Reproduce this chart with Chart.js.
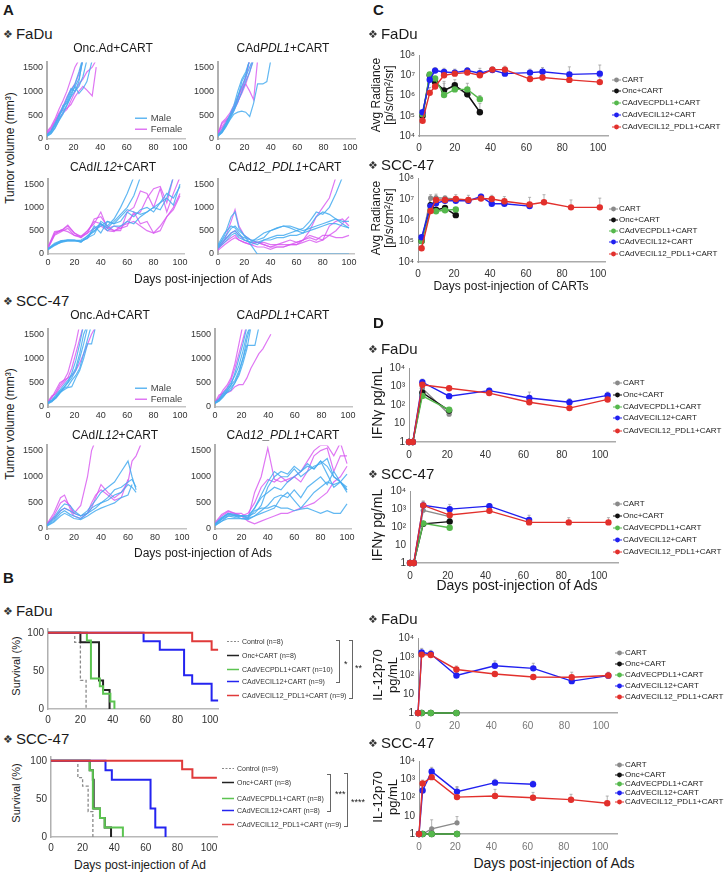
<!DOCTYPE html>
<html>
<head>
<meta charset="utf-8">
<title>CAdVEC + CART tumour, survival and cytokine panels</title>
<script src="https://cdn.jsdelivr.net/npm/chart.js@4.4.1/dist/chart.umd.min.js"></script>
<style>
  body { margin: 0; background: #fff; }
  #page { position: relative; width: 724px; height: 873px; overflow: hidden; font-family: "Liberation Sans", Arial, sans-serif; color: #1a1a1a; }
  #page canvas { position: absolute; }
  .t { position: absolute; white-space: nowrap; line-height: 1; }
  .lg { display: flex; align-items: center; }
  .lg svg { margin-right: 1px; flex: none; }
  .sym { font-family: "DejaVu Sans", sans-serif; font-size: 11px; color: #333; margin-right: 3px; vertical-align: 1px; font-variant-emoji: text; }
  .br { position: absolute; border: 1px solid #666; border-left: none; width: 3px; }
</style>
</head>
<body>
<div id="page"></div>
<script>
// ---------- Panel A: tumour volume per mouse (mm3) ----------
const volTicks = [0, 500, 1000, 1500];
const volLabels = ['0', '500', '1000', '1500'];
const dayTicks = [0, 20, 40, 60, 80, 100];

// FaDu, Onc.Ad+CART
const fOncDays = [0, 3, 6, 9, 12, 15, 18, 21, 24, 27, 30, 34, 37];
const fOncMale = [
  [70, 150, 280, 450, 700, 750, 950, 1100, 1250, 1650],
  [60, 120, 240, 400, 560, 720, 900, 1100, 950, 1050, 1200, 1650],
  [80, 160, 300, 500, 650, 850, 1050, 1000, 1200, 1700],
  [90, 170, 330, 480, 620, 800, 1000, 1150, 1400, 1700],
  [60, 110, 220, 380, 520, 700, 880, 1000, 1100, 1300, 1650]
];
const fOncFemale = [
  [160, 260, 420, 620, 800, 1000, 1250, 1500, 1650],
  [110, 200, 360, 520, 600, 640, 720, 880, 1000, 1100, 1020, 900, 1500],
  [100, 170, 290, 430, 540, 620, 800, 980, 1150, 1250, 1400, 1500, 1650],
  [130, 230, 370, 540, 680, 880, 1030, 1150, 1350, 1650]
];
// FaDu, CAdPDL1+CART
const fPdlDays = [0, 3, 6, 9, 12, 15, 18, 21, 24, 27, 30, 34, 37, 40];
const fPdlMale = [
  [60, 130, 250, 400, 520, 560, 580, 560, 470, 750, 1150, 1150, 1200, 1650],
  [80, 150, 290, 440, 600, 850, 1200, 1350, 1650],
  [70, 160, 310, 480, 640, 900, 1100, 1300, 1500, 1700],
  [90, 190, 340, 500, 700, 1000, 1250, 1400, 1650],
  [60, 140, 270, 420, 580, 780, 980, 1200, 1400, 1650]
];
const fPdlFemale = [
  [100, 320, 400, 480, 600, 760, 1000, 1300, 1650],
  [120, 350, 430, 540, 700, 880, 1050, 1150, 1000, 820, 1650],
  [150, 250, 380, 470, 640, 840, 1080, 1250, 1700],
  [100, 210, 340, 490, 630, 790, 950, 1150, 1400, 1700]
];
// FaDu, CAdIL12+CART
const fIl12Days = [0, 5, 10, 15, 20, 25, 30, 35, 40, 45, 50, 55, 60, 65, 70, 75, 80, 85, 90, 95, 100];
const fIl12Male = [
  [100, 200, 270, 280, 280, 260, 350, 420, 700, 600, 750, 1000, 1300, 1650],
  [120, 230, 290, 300, 300, 280, 330, 550, 650, 560, 700, 850, 1000, 1250, 1650],
  [90, 180, 260, 300, 300, 250, 400, 500, 600, 700, 650, 800, 950, 900, 850, 900, 1000, 950, 1200, 1650],
  [110, 210, 280, 300, 290, 270, 350, 600, 450, 700, 650, 700, 900, 800, 950, 1000, 900, 1100, 1200, 1050, 1500],
  [100, 200, 250, 280, 280, 300, 380, 480, 650, 500, 600, 600, 700, 650, 800, 900, 1000, 1100, 1300, 1200, 1450]
];
const fIl12Female = [
  [130, 450, 500, 600, 450, 350, 500, 650, 900, 550, 600, 550, 700, 850, 900, 1200, 1400, 1450, 1100, 1650],
  [150, 480, 500, 620, 450, 380, 450, 750, 800, 600, 500, 550, 600, 900, 650, 700, 450, 600, 800, 950, 1250],
  [120, 400, 480, 550, 400, 380, 500, 700, 650, 550, 500, 500, 900, 1000, 1350, 1300, 1000, 1400, 900, 1300, 1650],
  [140, 420, 520, 480, 400, 350, 450, 550, 600, 500, 480, 600, 650, 700, 600, 500, 450, 500, 800, 1000, 1300]
];
// FaDu, CAd12_PDL1+CART
const fDualDays = [0, 5, 10, 13, 16, 20, 25, 30, 35, 40, 45, 50, 55, 60, 65, 70, 75, 80, 85, 90, 95, 100];
const fDualMale = [
  [150, 400, 800, 900, 550, 400, 200, 0, 0, 0, 0, 0, 0, 0, 0, 0, 0, 0, 0, 0, 0, 0],
  [200, 450, 600, 560, 450, 300, 250, 350, 450, 500, 560, 600, 560, 500, 450, 600, 800, 900, 850, 750, 700, 700],
  [180, 350, 550, 600, 500, 400, 300, 250, 300, 350, 400, 400, 450, 500, 550, 700, 900, 850, 1000, 1300, 1650],
  [150, 300, 450, 500, 400, 350, 300, 300, 350, 500, 550, 600, 600, 550, 500, 550, 600, 650, 700, 750, 650, 560],
  [120, 250, 400, 450, 350, 300, 250, 200, 300, 300, 350, 350, 400, 400, 450, 500, 550, 600, 650, 650, 600, 560]
];
const fDualFemale = [
  [100, 300, 700, 950, 600, 400, 300, 250, 200, 150, 200, 200, 200, 250, 300, 500, 800, 1000, 1200, 1650],
  [150, 300, 450, 500, 400, 300, 250, 250, 200, 150, 150, 150, 200, 200, 300, 400, 350, 300, 400, 500, 650, 800],
  [120, 250, 350, 400, 300, 250, 200, 250, 250, 200, 200, 250, 300, 250, 300, 350, 300, 400, 400, 350, 350, 400],
  [80, 200, 300, 350, 300, 250, 200, 150, 150, 100, 150, 150, 200, 200, 250, 300, 250, 300, 600, 700, 750, 600]
];
// SCC-47, Onc.Ad+CART
const sOncDays = [0, 3, 6, 9, 12, 15, 18, 21, 24, 27, 30, 33, 36, 39];
const sOncMale = [
  [80, 120, 180, 280, 380, 420, 550, 650, 800, 1100, 1400, 1700],
  [90, 140, 220, 320, 400, 500, 600, 750, 1000, 1300, 1650],
  [70, 110, 200, 300, 350, 400, 420, 600, 750, 1000, 1300, 1300, 1650],
  [100, 150, 250, 350, 450, 550, 650, 800, 1100, 1500, 1700],
  [80, 130, 200, 300, 400, 500, 700, 950, 1300, 1700]
];
const sOncFemale = [
  [100, 200, 300, 450, 550, 700, 1000, 1300, 1700],
  [120, 230, 270, 400, 500, 600, 800, 1100, 1400, 1700],
  [90, 200, 350, 500, 550, 600, 650, 750, 900, 1100, 1300, 1500, 1650]
];
// SCC-47, CAdPDL1+CART
const sPdlDays = [0, 3, 6, 9, 12, 15, 18, 21, 24, 27, 30, 33, 36, 39, 42];
const sPdlMale = [
  [80, 140, 230, 330, 450, 700, 1000, 1300, 1650],
  [90, 150, 250, 350, 450, 550, 750, 1000, 1270, 1270, 1270, 1650],
  [70, 130, 220, 300, 400, 500, 650, 900, 1200, 1650],
  [100, 160, 280, 380, 500, 650, 850, 1150, 1500, 1700],
  [80, 120, 200, 300, 350, 500, 700, 1000, 1400, 1700]
];
const sPdlFemale = [
  [100, 250, 280, 290, 330, 420, 460, 460, 600, 800, 950, 1100, 1200, 1350, 1500],
  [90, 180, 300, 400, 550, 800, 1100, 1400, 1700],
  [100, 200, 350, 450, 600, 900, 1300, 1700]
];
// SCC-47, CAdIL12+CART
const sIl12Days = [0, 5, 10, 13, 17, 20, 25, 30, 33, 36, 40, 45, 50, 55, 60, 63, 66, 70];
const sIl12Male = [
  [80, 220, 400, 480, 450, 350, 250, 350, 450, 550, 700, 800, 900, 1100, 1300, 1000, 750],
  [60, 150, 300, 350, 280, 250, 200, 300, 350, 400, 500, 550, 650, 700, 850, 800, 700],
  [70, 180, 350, 400, 350, 300, 250, 300, 400, 450, 500, 600, 750, 800, 900, 950, 800],
  [60, 130, 250, 300, 250, 200, 180, 250, 300, 350, 400, 450, 500, 600, 650, 850]
];
const sIl12Female = [
  [100, 300, 600, 650, 400, 300, 450, 1000, 1500, 1700],
  [90, 250, 500, 550, 450, 300, 250, 300, 400, 600, 850, 700, 600, 700, 900, 1300, 1400, 1650],
  [100, 200, 350, 400, 350, 250, 200, 300, 500, 650, 750, 650, 550, 600, 950]
];
// SCC-47, CAd12_PDL1+CART
const sDualDays = [0, 5, 10, 15, 20, 25, 30, 35, 40, 45, 50, 55, 60, 65, 70, 75, 80, 85, 90, 95, 100];
const sDualMale = [
  [80, 200, 300, 250, 250, 200, 350, 400, 400, 450, 400, 400, 350, 380, 400, 350, 300, 350, 300, 300, 480],
  [100, 220, 300, 280, 250, 250, 400, 600, 700, 800, 750, 900, 1000, 1100, 1200, 1150, 1300, 1200, 1000, 900, 1050],
  [80, 180, 250, 220, 250, 250, 300, 450, 800, 1000, 1100, 1050, 1200, 1100, 1250, 1150, 1300, 1050, 800, 900, 750],
  [90, 200, 280, 260, 250, 220, 400, 650, 900, 1100, 1000, 1000, 1150, 1000, 1100, 1200, 1250, 1350, 1000, 900, 700],
  [70, 150, 250, 250, 200, 200, 250, 350, 450, 600, 650, 600, 750, 600, 800, 900, 1000, 850, 1100, 900, 800],
  [60, 150, 200, 200, 200, 180, 250, 300, 350, 400, 600, 700, 550, 400, 550, 700, 800, 900, 850, 900, 750]
];
const sDualFemale = [
  [120, 280, 350, 300, 300, 200, 700, 1000, 1550, 950, 900, 950, 1000, 1100, 1300, 1500, 1600, 1600, 1400, 1650, 1250],
  [100, 250, 330, 300, 250, 150, 100, 150, 200, 250, 300, 300, 350, 400, 450, 500, 600, 700, 900, 1000, 1200],
  [80, 200, 300, 280, 250, 300, 500, 800, 950, 900, 1000, 900, 1000, 900, 1100, 1400, 1500, 1550, 1100, 1400, 1400]
];

// ---------- Panel B: Kaplan-Meier survival (%) ----------
const survTicks = [0, 50, 100];
const survFaduControlDays = [0, 16.5, 20, 23.5];
const survFaduControlPct = [100, 87.5, 37.5, 0];
const survFaduOncDays = [0, 20, 31.5, 34, 38];
const survFaduOncPct = [100, 87.5, 37.5, 25, 0];
const survFaduPdl1Days = [0, 24, 26.5, 32, 34, 38.5, 41];
const survFaduPdl1Pct = [100, 90, 40, 30, 20, 10, 0];
const survFaduIl12Days = [0, 59, 69, 84, 89, 101, 105];
const survFaduIl12Pct = [100, 88.9, 77.8, 44.4, 33.3, 11.1, 11.1];
const survFaduDualDays = [0, 89, 101, 105];
const survFaduDualPct = [100, 88.9, 77.8, 77.8];

const survSccControlDays = [0, 17, 20, 23.5, 26.5];
const survSccControlPct = [100, 77.8, 66.7, 33.3, 0];
const survSccOncDays = [0, 24.5, 26.5, 27, 31, 34, 38];
const survSccOncPct = [100, 87.5, 75, 37.5, 25, 12.5, 0];
const survSccPdl1Days = [0, 24.5, 26.5, 31, 34, 45.5];
const survSccPdl1Pct = [100, 87.5, 37.5, 25, 12.5, 0];
const survSccIl12Days = [0, 34.5, 38.5, 63, 66, 72.5];
const survSccIl12Pct = [100, 87.5, 75, 37.5, 12.5, 0];
const survSccDualDays = [0, 83, 89.5, 105];
const survSccDualPct = [100, 88.9, 77.8, 77.8];

const survNamesFadu = ['Control (n=8)', 'Onc+CART (n=8)', 'CAdVECPDL1+CART (n=10)', 'CAdVECIL12+CART (n=9)', 'CAdVECIL12_PDL1+CART (n=9)'];
const survNamesScc = ['Control (n=9)', 'Onc+CART (n=8)', 'CAdVECPDL1+CART (n=8)', 'CAdVECIL12+CART (n=8)', 'CAdVECIL12_PDL1+CART (n=9)'];

// ---------- Panel C: CART bioluminescence, avg radiance [p/s/cm2/sr] ----------
const groupNames = ['CART', 'Onc+CART', 'CAdVECPDL1+CART', 'CAdVECIL12+CART', 'CAdVECIL12_PDL1+CART'];
const radTicks = [1e4, 1e5, 1e6, 1e7, 1e8];
const radLabels = ['10\u2074', '10\u2075', '10\u2076', '10\u2077', '10\u2078'];

const radFaduDays = [2, 6, 9, 14, 20, 27, 34, 41, 48, 62, 69, 84, 101];
const radFaduCart = [1.0e5, 9.0e6, 4.5e6, 1.8e6, 3.0e6, 1.1e6, 1.5e5];
const radFaduOnc = [1.0e5, 1.0e7, 4.6e6, 1.8e6, 3.2e6, 1.15e6, 1.5e5];
const radFaduPdl1 = [1.2e5, 1.1e7, 7.0e6, 1.05e6, 2.0e6, 2.0e6, 6.6e5];
const radFaduIl12 = [1.5e5, 6.0e6, 1.7e7, 1.45e7, 1.35e7, 1.7e7, 1.25e7, 1.8e7, 1.2e7, 1.35e7, 1.5e7, 1.1e7, 1.2e7];
const radFaduDual = [5.7e4, 1.35e6, 2.8e6, 1.0e7, 1.2e7, 1.35e7, 1.0e7, 1.9e7, 1.9e7, 6.5e6, 7.8e6, 5.9e6, 4.6e6];
const radFaduOncErr = [null, 1.4e7, 7e6, 5e6, 6e6, 2e6, 4e5];
const radFaduPdl1Err = [null, null, null, 4e6, 3e6, 4e6, 1e6];
const radFaduIl12Err = [null, 1.0e7, 2.4e7, 2.2e7, 2.0e7, 2.4e7, 2.2e7, 2.6e7, 1.8e7, 2.0e7, 2.4e7, 2.6e7, 3.2e7];
const radFaduDualErr = [8e4, 2.5e6, 5e6, 1.6e7, 1.8e7, 2.0e7, 1.6e7, 2.5e7, 2.8e7, 1.0e7, 1.2e7, 1.0e7, 8e6];

const radSccDays = [2, 7, 10, 15, 21, 28, 35, 41, 48, 62, 70, 85, 101];
const radSccCart = [1.0e5, 1.1e7, 1.15e7, 1.1e7, 1.0e7];
const radSccOnc = [1.0e5, 5.0e6, 3.1e6, 3.7e6, 1.7e6];
const radSccPdl1 = [1.0e5, 2.9e6, 2.6e6, 2.9e6, 3.2e6];
const radSccIl12 = [1.5e5, 4.6e6, 6.3e6, 8.3e6, 8.3e6, 8.3e6, 1.3e7, 5.9e6, 5.9e6, 4.6e6];
const radSccDual = [4.5e4, 2.7e6, 9.0e6, 9.0e6, 1.0e7, 9.0e6, 1.05e7, 1.0e7, 7.8e6, 5.5e6, 7.0e6, 4.0e6, 4.0e6];
const radSccCartErr = [null, 1.6e7, 1.7e7, null, null];
const radSccDualErr = [null, 5e6, 1.4e7, 1.4e7, 1.6e7, 1.5e7, 1.7e7, 1.5e7, 1.3e7, 1.2e7, 1.6e7, 9e6, 1.1e7];

// ---------- Panel D: serum cytokines (pg/mL) ----------
const pgTicks = [1, 10, 100, 1000, 10000];
const pgLabels = ['1', '10', '10\u00b2', '10\u00b3', '10\u2074'];

const ifnFaduDays = [0, 2, 7, 21, 42, 63, 84, 104];
const ifnFaduCart = [1, 1, 800, 32];
const ifnFaduOnc = [1, 1, 460, 50];
const ifnFaduPdl1 = [1, 1, 310, 55];
const ifnFaduIl12 = [1, 1, 1700, 300, 600, 240, 140, 330];
const ifnFaduDual = [1, 1, 1250, 800, 440, 140, 68, 200];
const ifnFaduCartErr = [null, null, 1400, 60];
const ifnFaduIl12Err = [null, null, 2500, null, 800, 500, 220, 500];
const ifnFaduDualErr = [null, null, 1800, 1000, null, null, null, null];

const ifnSccDays = [0, 2, 7, 21, 42, 63, 84, 105];
const ifnSccCart = [1, 1, 850, 380];
const ifnSccOnc = [1, 1, 150, 200];
const ifnSccPdl1 = [1, 1, 160, 91];
const ifnSccIl12 = [1, 1, 1600, 980, 1450, 250];
const ifnSccDual = [1, 1, 1600, 460, 790, 180, 180, 180];
const ifnSccIl12Err = [null, null, 2800, 1800, 2000, 450];
const ifnSccDualErr = [null, null, 2600, null, null, null, 330, 330];

const ilFaduDays = [0, 2, 7, 21, 42, 63, 84, 104];
const ilFaduCart = [1, 1, 1, 1];
const ilFaduOnc = [1, 1, 1, 1];
const ilFaduPdl1 = [1, 1, 1, 1];
const ilFaduIl12 = [1, 1700, 1400, 100, 330, 240, 50, 98];
const ilFaduDual = [1, 1300, 1250, 210, 120, 83, 80, 100];
const ilFaduIl12Err = [null, 2800, 2200, 160, 600, 450, null, 150];
const ilFaduDualErr = [null, null, null, 320, null, null, 150, null];

const ilSccDays = [0, 2, 7, 21, 42, 63, 84, 104];
const ilSccCart = [1, 1, 1.9, 4.1];
const ilSccOnc = [1, 1, 1, 1];
const ilSccPdl1 = [1, 1, 1, 1];
const ilSccIl12 = [1, 240, 2700, 210, 650, 530];
const ilSccDual = [1, 590, 1300, 105, 120, 96, 76, 48];
const ilSccCartErr = [null, null, 6, 9];
const ilSccIl12Err = [null, null, 4500, 400, 1000, 800];
const ilSccDualErr = [null, 900, null, 350, 280, 190, 150, 120];

// ---------- drawing ----------
const page = document.getElementById('page');
Chart.defaults.font.family = '"Liberation Sans", Arial, sans-serif';

const MALE = 'rgba(70,172,240,0.85)';
const FEMALE = 'rgba(215,85,240,0.8)';
const GROUP_COLORS = ['#8a8a8a', '#111111', '#55b84c', '#2020f0', '#e2302c'];
const SURV_COLORS = ['#8a8a8a', '#222222', '#5cc451', '#2424f0', '#e03a3a'];

function pts(days, vals) {
  return vals.map((v, i) => ({ x: days[i], y: v }));
}

// thin upper whiskers, drawn under the markers
const errorBars = {
  id: 'errorBars',
  beforeDatasetsDraw(chart) {
    const ctx = chart.ctx;
    const ys = chart.scales.y;
    chart.data.datasets.forEach((ds, i) => {
      if (!ds.errUp) return;
      const meta = chart.getDatasetMeta(i);
      ctx.save();
      ctx.strokeStyle = '#a0a0a0';
      ctx.lineWidth = 0.8;
      meta.data.forEach((p, j) => {
        const e = ds.errUp[j];
        if (e == null) return;
        const top = ys.getPixelForValue(e);
        ctx.beginPath();
        ctx.moveTo(p.x, p.y);
        ctx.lineTo(p.x, top);
        ctx.moveTo(p.x - 1.5, top);
        ctx.lineTo(p.x + 1.5, top);
        ctx.stroke();
      });
      ctx.restore();
    });
  }
};

// f: plot frame in page px {x0: day 0, x100: day 100, xEnd: end of x axis, top, bottom}
function makeChart(f, o) {
  const padT = 7, padR = 14;
  const xMax = 100 * (f.xEnd - f.x0) / (f.x100 - f.x0);
  const c = document.createElement('canvas');
  c.width = Math.round(f.xEnd - f.x0 + o.yW + padR);
  c.height = Math.round(f.bottom - f.top + padT + o.xH);
  c.style.left = Math.round(f.x0 - o.yW) + 'px';
  c.style.top = Math.round(f.top - padT) + 'px';
  page.appendChild(c);
  return new Chart(c, {
    type: 'line',
    data: { datasets: o.datasets },
    options: {
      responsive: false,
      animation: false,
      events: [],
      layout: { padding: { top: padT, right: padR, left: 0, bottom: 0 } },
      plugins: { legend: { display: false }, tooltip: { enabled: false } },
      elements: { line: { tension: 0 } },
      scales: {
        x: {
          type: 'linear', min: 0, max: xMax,
          afterBuildTicks: s => { s.ticks = dayTicks.map(v => ({ value: v })); },
          afterFit: s => { s.height = o.xH; },
          grid: { display: false, drawTicks: false },
          border: { display: true, color: o.xAxisColor, width: o.xAxisWidth },
          ticks: { font: { size: o.xFont }, color: o.xTickColor, padding: o.xPad, maxRotation: 0, autoSkip: false, callback: v => String(v) }
        },
        y: {
          type: o.yType, min: o.yMin, max: o.yMax,
          afterBuildTicks: s => { s.ticks = o.yTicks.map(v => ({ value: v })); },
          afterFit: s => { s.width = o.yW; },
          grid: { display: false, drawTicks: false },
          border: { display: true, color: o.yAxisColor, width: o.yAxisWidth, dash: o.yDash || [] },
          ticks: { font: { size: o.yFont }, color: o.yTickColor, padding: 4, autoSkip: false, callback: (v, i) => o.yLabels[i] }
        }
      }
    },
    plugins: [errorBars]
  });
}

// ---- A ----
function aFrame(x0, x100, xEnd, y0, y1500) {
  return { x0, x100, xEnd, bottom: y0, top: y0 - (y0 - y1500) * 1600 / 1500 };
}
function spaghetti(days, male, female) {
  const line = (v, col) => ({ data: pts(days, v), borderColor: col, borderWidth: 1.2, pointRadius: 0 });
  return [...male.map(v => line(v, MALE)), ...female.map(v => line(v, FEMALE))];
}
function volChart(f, days, male, female) {
  makeChart(f, {
    datasets: spaghetti(days, male, female),
    yType: 'linear', yMin: 0, yMax: 1600, yTicks: volTicks, yLabels: volLabels,
    yW: 26, xH: 14, xFont: 9, yFont: 9, xPad: 3,
    xAxisColor: '#c4c4c4', xAxisWidth: 1.5, yAxisColor: '#b0b0b0', yAxisWidth: 2,
    xTickColor: '#333', yTickColor: '#333'
  });
}
volChart(aFrame(47, 180, 185, 139, 65), fOncDays, fOncMale, fOncFemale);
volChart(aFrame(218, 350, 355, 139, 65), fPdlDays, fPdlMale, fPdlFemale);
volChart(aFrame(48, 180, 184, 254, 182), fIl12Days, fIl12Male, fIl12Female);
volChart(aFrame(218, 349, 354, 254, 182), fDualDays, fDualMale, fDualFemale);
volChart(aFrame(48, 180, 185, 407, 332), sOncDays, sOncMale, sOncFemale);
volChart(aFrame(215, 348, 352, 407, 332), sPdlDays, sPdlMale, sPdlFemale);
volChart(aFrame(47, 182, 186, 529, 448), sIl12Days, sIl12Male, sIl12Female);
volChart(aFrame(215, 347, 351, 529, 448), sDualDays, sDualMale, sDualFemale);

// ---- B ----
function survChart(f, groups) {
  const ds = groups.map((g, i) => ({
    data: pts(g[0], g[1]), stepped: true, borderColor: SURV_COLORS[i],
    borderWidth: i === 0 ? 1.3 : 2, borderDash: i === 0 ? [3, 2] : [], pointRadius: 0, clip: false
  }));
  ds.reverse(); // red drawn last, on top
  makeChart(f, {
    datasets: ds,
    yType: 'linear', yMin: 0, yMax: 105, yTicks: survTicks, yLabels: ['0', '50', '100'],
    yW: 26, xH: 16, xFont: 10, yFont: 10, xPad: 5,
    xAxisColor: '#b8b8b8', xAxisWidth: 1.5, yAxisColor: '#b0b0b0', yAxisWidth: 1.5,
    xTickColor: '#333', yTickColor: '#333'
  });
}
survChart({ x0: 48, x100: 210, xEnd: 218, bottom: 709, top: 709 - 79 * 1.05 }, [
  [survFaduControlDays, survFaduControlPct], [survFaduOncDays, survFaduOncPct],
  [survFaduPdl1Days, survFaduPdl1Pct], [survFaduIl12Days, survFaduIl12Pct], [survFaduDualDays, survFaduDualPct]
]);
survChart({ x0: 51, x100: 209, xEnd: 217, bottom: 837, top: 837 - 79 * 1.05 }, [
  [survSccControlDays, survSccControlPct], [survSccOncDays, survSccOncPct],
  [survSccPdl1Days, survSccPdl1Pct], [survSccIl12Days, survSccIl12Pct], [survSccDualDays, survSccDualPct]
]);

// ---- C / D ----
function groupChart(f, days, series, errs, o) {
  const ds = series.map((v, i) => ({
    data: pts(days, v), borderColor: GROUP_COLORS[i], backgroundColor: GROUP_COLORS[i],
    borderWidth: 1.4, pointRadius: i === 0 ? 2.6 : 3.2, pointBorderWidth: 0, clip: false,
    errUp: errs[i]
  }));
  ds.reverse();
  makeChart(f, Object.assign({
    datasets: ds, yType: 'logarithmic',
    yW: 28, xFont: 10, yFont: 10,
    xAxisColor: '#aaaaaa', xAxisWidth: 1.5, yAxisColor: '#999999', yAxisWidth: 1, yDash: [1, 1.5],
    xTickColor: '#333', yTickColor: '#333'
  }, o));
}
const radOpts = { yMin: 1e4, yMax: 1e8, yTicks: radTicks, yLabels: radLabels, xH: 18, xPad: 6 };
groupChart({ x0: 419, x100: 598, xEnd: 608, top: 52, bottom: 136 }, radFaduDays,
  [radFaduCart, radFaduOnc, radFaduPdl1, radFaduIl12, radFaduDual],
  [null, radFaduOncErr, radFaduPdl1Err, radFaduIl12Err, radFaduDualErr], radOpts);
groupChart({ x0: 418, x100: 598, xEnd: 605, top: 175, bottom: 262 }, radSccDays,
  [radSccCart, radSccOnc, radSccPdl1, radSccIl12, radSccDual],
  [radSccCartErr, null, null, null, radSccDualErr], radOpts);

const pgOpts = { yMin: 1, yMax: 1e4, yTicks: pgTicks, yLabels: pgLabels, xH: 20, xPad: 7 };
groupChart({ x0: 409, x100: 600, xEnd: 615, top: 365, bottom: 442 }, ifnFaduDays,
  [ifnFaduCart, ifnFaduOnc, ifnFaduPdl1, ifnFaduIl12, ifnFaduDual],
  [ifnFaduCartErr, null, null, ifnFaduIl12Err, ifnFaduDualErr], pgOpts);
groupChart({ x0: 410, x100: 599, xEnd: 618, top: 488, bottom: 563 }, ifnSccDays,
  [ifnSccCart, ifnSccOnc, ifnSccPdl1, ifnSccIl12, ifnSccDual],
  [null, null, null, ifnSccIl12Err, ifnSccDualErr], pgOpts);
const ilOpts = Object.assign({}, pgOpts, { xTickColor: '#777' });
groupChart({ x0: 418, x100: 601, xEnd: 617, top: 635, bottom: 713 }, ilFaduDays,
  [ilFaduCart, ilFaduOnc, ilFaduPdl1, ilFaduIl12, ilFaduDual],
  [null, null, null, ilFaduIl12Err, ilFaduDualErr], ilOpts);
groupChart({ x0: 419, x100: 600, xEnd: 617, top: 758, bottom: 834 }, ilSccDays,
  [ilSccCart, ilSccOnc, ilSccPdl1, ilSccIl12, ilSccDual],
  [ilSccCartErr, null, null, ilSccIl12Err, ilSccDualErr], ilOpts);

// ---------- text ----------
function label(html, x, y, size, o = {}) {
  const d = document.createElement('div');
  d.className = 't';
  d.innerHTML = html;
  d.style.left = x + 'px';
  d.style.top = y + 'px';
  d.style.fontSize = size + 'px';
  const ax = o.left ? '0' : '-50%';
  d.style.transform = `translate(${ax},-50%)` + (o.rot ? ' rotate(-90deg)' : '');
  if (o.bold) d.style.fontWeight = 'bold';
  if (o.color) d.style.color = o.color;
  page.appendChild(d);
  return d;
}
const SYM = '<span class="sym">\u2756\ufe0e</span>';

// panel letters and cell-line headers
label('A', 3, 9, 15, { left: true, bold: true });
label('B', 3, 577, 15, { left: true, bold: true });
label('C', 373, 9, 15, { left: true, bold: true });
label('D', 373, 322, 15, { left: true, bold: true });
label(SYM + 'FaDu', 3, 33, 15, { left: true });
label(SYM + 'SCC-47', 3, 300, 15, { left: true });
label(SYM + 'FaDu', 3, 610, 15, { left: true });
label(SYM + 'SCC-47', 3, 738, 15, { left: true });
label(SYM + 'FaDu', 368, 33, 15, { left: true });
label(SYM + 'SCC-47', 368, 164, 15, { left: true });
label(SYM + 'FaDu', 368, 348, 15, { left: true });
label(SYM + 'SCC-47', 368, 473, 15, { left: true });
label(SYM + 'FaDu', 368, 618, 15, { left: true });
label(SYM + 'SCC-47', 368, 742, 15, { left: true });

// A titles
label('Onc.Ad+CART', 113, 48, 12);
label('CAd<i>PDL1</i>+CART', 283, 48, 12);
label('CAd<i>IL12</i>+CART', 113, 167, 12);
label('CAd<i>12_PDL1</i>+CART', 285, 167, 12);
label('Onc.Ad+CART', 110, 315, 12);
label('CAd<i>PDL1</i>+CART', 283, 315, 12);
label('CAd<i>IL12</i>+CART', 115, 435, 12);
label('CAd<i>12_PDL1</i>+CART', 283, 435, 12);
label('Days post-injection of Ads', 203, 279, 12);
label('Days post-injection of Ads', 203, 553, 12);
label('Tumor volume (mm\u00b3)', 10, 148, 12, { rot: true });
label('Tumor volume (mm\u00b3)', 10, 424, 12, { rot: true });

function sexLegend(y1, y2) {
  [[y1, MALE, 'Male'], [y2, FEMALE, 'Female']].forEach(([y, col, name]) => {
    label(`<span class="lg"><svg width="12" height="4"><line x1="0" y1="2" x2="12" y2="2" stroke="${col}" stroke-width="1.4"/></svg>&nbsp;${name}</span>`, 135, y, 9.5, { left: true, color: '#444' });
  });
}
sexLegend(118, 129);
sexLegend(388, 399);

// B text
label('Survival (%)', 16, 666, 11, { rot: true });
label('Survival (%)', 16, 793, 11, { rot: true });
label('Days post-injection of Ad', 140, 865, 12);
function survLegend(x, ys, names) {
  names.forEach((n, i) => {
    const dash = i === 0 ? ' stroke-dasharray="2,1.5"' : '';
    label(`<span class="lg"><svg width="12" height="4"><line x1="0" y1="2" x2="12" y2="2" stroke="${SURV_COLORS[i]}" stroke-width="${i === 0 ? 1 : 1.6}"${dash}/></svg>&nbsp;${n}</span>`, x, ys[i], 7, { left: true, color: '#333' });
  });
}
survLegend(227, [641, 655, 669, 681, 695], survNamesFadu);
survLegend(222, [768, 782, 798, 810, 824], survNamesScc);
function bracket(x, y1, y2) {
  const d = document.createElement('div');
  d.className = 'br';
  d.style.left = (x - 3) + 'px';
  d.style.top = y1 + 'px';
  d.style.height = (y2 - y1) + 'px';
  page.appendChild(d);
}
bracket(339, 640, 681);
bracket(352, 640, 697);
label('*', 344, 664, 9, { left: true });
label('**', 355, 668, 9, { left: true });
bracket(330, 774, 810);
bracket(347, 773, 825);
label('***', 335, 794, 9, { left: true });
label('****', 351, 802, 9, { left: true });

// C/D text
function groupLegend(x, ys) {
  groupNames.forEach((n, i) => {
    const col = GROUP_COLORS[i];
    label(`<span class="lg"><svg width="9" height="6"><line x1="0" y1="3" x2="9" y2="3" stroke="${col}" stroke-width="1"/><circle cx="4.5" cy="3" r="2.4" fill="${col}"/></svg>${n}</span>`, x, ys[i], 8, { left: true, color: '#222' });
  });
}
groupLegend(612, [80, 91, 103, 115, 127]);
groupLegend(609, [209, 220, 231, 242, 254]);
groupLegend(613, [383, 395, 407, 418, 431]);
groupLegend(613, [504, 516, 528, 540, 552]);
groupLegend(615, [653, 664, 675, 686, 697]);
groupLegend(615, [765, 775, 784, 793, 802]);

label('Avg Radiance', 376, 95, 12, { rot: true });
label('[p/s/cm\u00b2/sr]', 389, 95, 12, { rot: true });
label('Avg Radiance', 376, 218, 12, { rot: true });
label('[p/s/cm\u00b2/sr]', 389, 218, 12, { rot: true });
label('Days post-injection of CARTs', 511, 286, 12);
label('IFN\u03b3 pg/mL', 377, 403, 14, { rot: true });
label('IFN\u03b3 pg/mL', 377, 525, 14, { rot: true });
label('Days post-injection of Ads', 517, 585, 14);
label('IL-12p70', 377, 675, 13, { rot: true });
label('pg/mL', 392, 675, 13, { rot: true });
label('IL-12p70', 377, 797, 13, { rot: true });
label('pg/mL', 392, 797, 13, { rot: true });
label('Days post-injection of Ads', 554, 863, 14);
</script>
</body>
</html>
